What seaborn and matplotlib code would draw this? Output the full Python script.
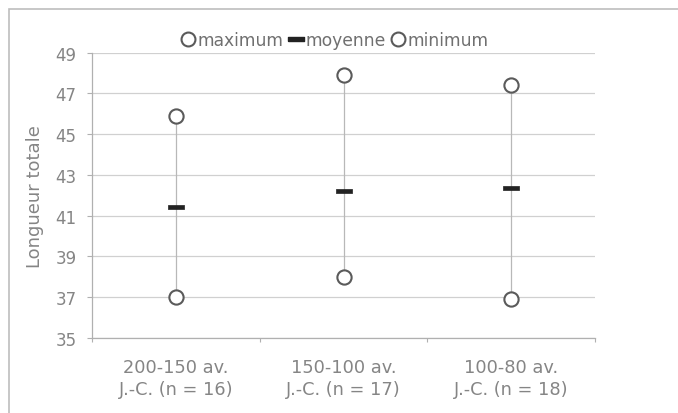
import pandas as pd
import matplotlib.pyplot as plt
import seaborn as sns
from matplotlib.patches import Rectangle
from matplotlib.lines import Line2D

# données
periods = ['200-150 av.\nJ.-C. (n = 16)', '150-100 av.\nJ.-C. (n = 17)', '100-80 av.\nJ.-C. (n = 18)']
maximum = [45.9, 47.9, 47.4]
moyenne = [41.4, 42.2, 42.35]
minimum = [37.0, 38.0, 36.9]

df = pd.DataFrame({'period': periods, 'maximum': maximum,
                   'moyenne': moyenne, 'minimum': minimum})

sns.set_theme(style="white")
plt.rcParams['font.family'] = ['DejaVu Sans']

txt = '#858585'
fig = plt.figure(figsize=(6.78, 4.14), dpi=100)
ax = fig.add_axes([92 / 678, 1 - 339 / 414, (595 - 92) / 678, (339 - 53.5) / 414])

# lignes haut-bas
ax.vlines(df['period'], df['minimum'], df['maximum'], color='#b8b8b8', lw=0.9, zorder=2)

circle_kw = dict(marker='o', s=105, facecolor='white', edgecolor='#5a5a5a', linewidth=1.5, zorder=4)
dash = [(-1, -0.24), (1, -0.24), (1, 0.24), (-1, 0.24), (-1, -0.24)]
sns.scatterplot(data=df, x='period', y='maximum', ax=ax, **circle_kw)
sns.scatterplot(data=df, x='period', y='moyenne', ax=ax, marker=dash, s=135,
                color='#222222', edgecolor='#222222', linewidth=0.5, zorder=4)
sns.scatterplot(data=df, x='period', y='minimum', ax=ax, **circle_kw)

ax.set_xlim(-0.5, 2.5)
ax.set_ylim(35, 49)
ax.set_yticks(range(35, 50, 2))
ax.set_xlabel('')
ax.set_ylabel('Longueur totale', fontsize=13, color=txt, labelpad=8)

ax.yaxis.grid(True, color='#d0d0d0', lw=0.9)
ax.set_axisbelow(True)
for s in ['top', 'right']:
    ax.spines[s].set_visible(False)
for s in ['left', 'bottom']:
    ax.spines[s].set_color('#b0b0b0')
    ax.spines[s].set_linewidth(0.9)

ax.tick_params(axis='y', direction='out', length=3.6, width=0.8, color='#b0b0b0',
               pad=7.5, labelsize=12, labelcolor=txt, left=True)
ax.tick_params(axis='x', which='major', length=0, pad=14.5, labelsize=12.8, labelcolor=txt)
for lab in ax.get_xticklabels():
    lab.set_linespacing(1.3)
ax.set_xticks([-0.5, 0.5, 1.5, 2.5], minor=True)
ax.tick_params(axis='x', which='minor', direction='out', length=3, width=0.8,
               color='#b0b0b0', bottom=True)

handles = [
    Line2D([], [], ls='', marker='o', markersize=10, markerfacecolor='white',
           markeredgecolor='#5a5a5a', markeredgewidth=1.5),
    Line2D([], [], ls='', marker=dash, markersize=11.5, markerfacecolor='#222222',
           markeredgecolor='#222222'),
    Line2D([], [], ls='', marker='o', markersize=10, markerfacecolor='white',
           markeredgecolor='#5a5a5a', markeredgewidth=1.5),
]
leg = ax.legend(handles, ['maximum', 'moyenne', 'minimum'], ncol=3, frameon=False,
                loc='center', bbox_to_anchor=(0.483, 1.044), fontsize=12.3,
                handlelength=0.8, handletextpad=0.15, columnspacing=0.35,
                borderaxespad=0, borderpad=0)
for t in leg.get_texts():
    t.set_color('#707070')

# cadre extérieur
fig.add_artist(Rectangle((9 / 678, -0.1), 1.1, 1.1 - 9.5 / 414, transform=fig.transFigure,
                         fill=False, edgecolor='#bdbdbd', lw=1.2, clip_on=False))

plt.savefig('out.png', dpi=100)
